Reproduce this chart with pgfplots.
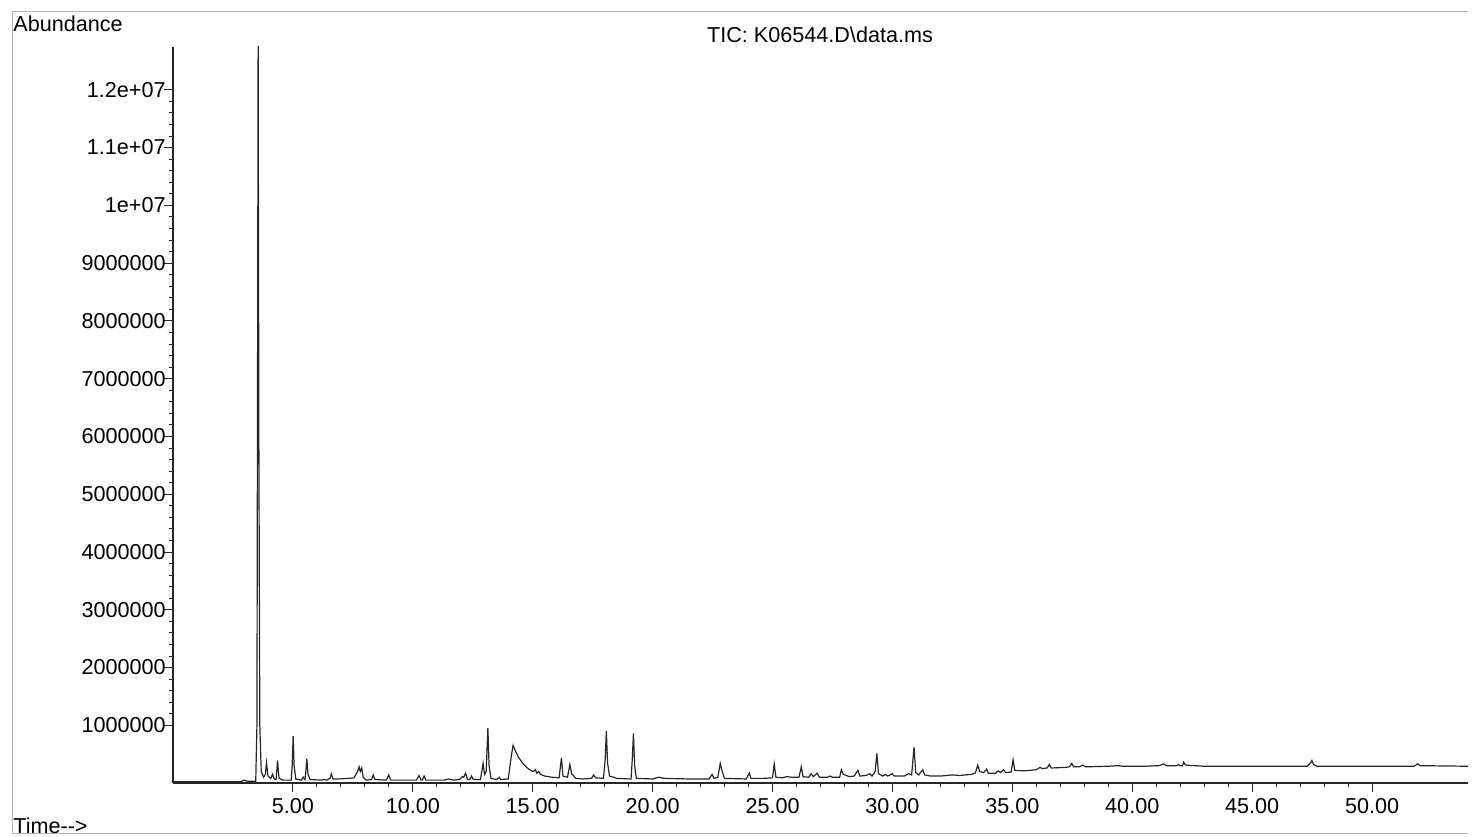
\documentclass[border=0pt]{standalone}
\usepackage{pgfplots}
\pgfplotsset{compat=1.18}
\usepackage{fontspec}
\setmainfont{Liberation Sans}
\begin{document}
\fontsize{10.8}{13}\selectfont
\begin{tikzpicture}[x=1pt,y=1pt]
\useasboundingbox (0,0) rectangle (736,418);
\draw[black!30, line width=0.5pt] (6,1.5) -- (6,412) -- (734,412);
\draw[black!30, line width=0.5pt] (6,1.5) -- (734,1.5);
\begin{axis}[
  at={(86.5pt,26.5pt)}, anchor=south west,
  scale only axis, width=647.5pt, height=368pt,
  xmin=0, xmax=54, ymin=0, ymax=12.74,
  axis x line*=bottom, axis y line*=left,
  axis line style={black!85, line width=0.6pt},
  tick align=outside,
  major tick length=4.5pt, minor tick length=2pt,
  xtick={5,10,...,50},
  xticklabels={5.00,10.00,15.00,20.00,25.00,30.00,35.00,40.00,45.00,50.00},
  minor x tick num=4,
  ytick={1,2,...,12},
  yticklabels={1000000,2000000,3000000,4000000,5000000,6000000,7000000,8000000,9000000,1e+07,1.1e+07,1.2e+07},
  minor y tick num=4,
  x tick style={black!85, line width=0.5pt},
  y tick style={black!85, line width=0.4pt},
  xticklabel style={font=\fontsize{10.8}{13}\selectfont, inner sep=2pt, yshift=-1pt},
  yticklabel style={font=\fontsize{10.8}{13}\selectfont, inner sep=1pt, xshift=2pt},
  clip=true,
]
\addplot[black!85, line width=0.6pt] coordinates {
(0.05,0.02) (2.8,0.02) (2.97,0.05) (3.1,0.03) (3.3,0.03) (3.45,0.03)
(3.50,1.0) (3.53,8.0) (3.55,12.9) (3.58,6.0) (3.62,1.0) (3.68,0.2)
(3.78,0.1) (3.85,0.15) (3.90,0.35) (3.96,0.12) (4.08,0.08) (4.15,0.15)
(4.22,0.07) (4.30,0.06) (4.36,0.39) (4.42,0.08) (4.6,0.05) (4.93,0.05)
(4.97,0.3) (5.01,0.81) (5.05,0.3) (5.12,0.07) (5.35,0.05) (5.43,0.1)
(5.5,0.06) (5.53,0.15) (5.58,0.42) (5.63,0.15) (5.72,0.06) (6.2,0.05)
(6.3,0.06) (6.4,0.05) (6.55,0.08) (6.6,0.16) (6.67,0.07) (6.9,0.07)
(7.3,0.08) (7.55,0.09) (7.7,0.2) (7.76,0.28) (7.81,0.2) (7.87,0.26)
(7.93,0.1) (8.05,0.05) (8.28,0.06) (8.35,0.14) (8.42,0.06) (8.9,0.05)
(9.0,0.14) (9.07,0.05) (10.15,0.05) (10.26,0.13) (10.34,0.05) (10.4,0.05)
(10.47,0.12) (10.54,0.05) (11.3,0.05) (11.5,0.07) (11.7,0.05) (11.95,0.06)
(12.06,0.11) (12.12,0.1) (12.2,0.17) (12.28,0.06) (12.38,0.06) (12.45,0.12)
(12.52,0.06) (12.82,0.06) (12.93,0.34) (12.99,0.15) (13.06,0.2) (13.13,0.95)
(13.18,0.3) (13.26,0.08) (13.5,0.06) (13.6,0.1) (13.66,0.06) (13.98,0.07)
(14.1,0.45) (14.18,0.65) (14.28,0.55) (14.4,0.45) (14.6,0.33) (14.8,0.25)
(15.0,0.2) (15.06,0.21) (15.11,0.23) (15.17,0.17) (15.25,0.2) (15.32,0.15)
(15.5,0.12) (15.8,0.1) (16.1,0.09) (16.2,0.44) (16.26,0.12) (16.45,0.1)
(16.55,0.32) (16.62,0.16) (16.8,0.08) (17.1,0.07) (17.45,0.08) (17.54,0.14)
(17.62,0.09) (17.95,0.08) (18.02,0.4) (18.07,0.9) (18.12,0.35) (18.2,0.12)
(18.38,0.1) (18.5,0.08) (19.1,0.07) (19.15,0.4) (19.2,0.86) (19.25,0.3)
(19.32,0.08) (20.0,0.07) (20.26,0.1) (20.5,0.08) (21.5,0.07) (22.35,0.07)
(22.48,0.15) (22.56,0.08) (22.72,0.1) (22.82,0.34) (22.9,0.2) (23.0,0.08)
(23.9,0.07) (24.03,0.17) (24.1,0.08) (24.6,0.08) (25.0,0.09) (25.07,0.33)
(25.14,0.1) (25.4,0.09) (25.6,0.11) (25.8,0.1) (26.1,0.1) (26.2,0.28)
(26.27,0.11) (26.5,0.1) (26.61,0.16) (26.7,0.11) (26.86,0.17) (26.95,0.1)
(27.3,0.1) (27.4,0.12) (27.5,0.1) (27.8,0.1) (27.87,0.23) (27.95,0.15)
(28.2,0.11) (28.4,0.12) (28.56,0.22) (28.64,0.12) (28.9,0.13) (29.05,0.16)
(29.15,0.12) (29.28,0.2) (29.35,0.51) (29.42,0.16) (29.6,0.12) (29.7,0.15)
(29.8,0.12) (29.99,0.16) (30.08,0.12) (30.5,0.12) (30.67,0.16) (30.8,0.14)
(30.9,0.62) (30.97,0.18) (31.1,0.14) (31.26,0.23) (31.34,0.14) (31.6,0.12)
(32.0,0.12) (32.5,0.14) (32.8,0.13) (33.3,0.15) (33.45,0.17) (33.56,0.31)
(33.64,0.2) (33.8,0.18) (33.93,0.24) (34.0,0.17) (34.3,0.17) (34.42,0.21)
(34.5,0.18) (34.63,0.23) (34.72,0.18) (34.95,0.19) (35.03,0.4) (35.1,0.22)
(35.5,0.21) (36.0,0.23) (36.15,0.27) (36.25,0.25) (36.45,0.26) (36.54,0.32)
(36.62,0.26) (37.2,0.27) (37.38,0.28) (37.48,0.34) (37.55,0.28) (37.8,0.28)
(37.94,0.31) (38.05,0.28) (39.0,0.29) (39.4,0.3) (39.6,0.29) (40.5,0.29)
(41.1,0.3) (41.32,0.33) (41.42,0.3) (41.85,0.3) (41.93,0.32) (42.0,0.3)
(42.1,0.3) (42.14,0.36) (42.22,0.31) (43.0,0.29) (45.0,0.29) (47.3,0.29)
(47.42,0.34) (47.49,0.39) (47.56,0.32) (47.7,0.29) (49.5,0.29) (51.75,0.29)
(51.9,0.33) (52.0,0.3) (54.0,0.29)
};
\end{axis}
\node[anchor=west, inner sep=0pt] at (6.5,406) {Abundance};
\node[anchor=center, inner sep=0pt] at (410,400.5) {TIC: K06544.D\textbackslash data.ms};
\node[anchor=west, inner sep=0pt] at (6.5,5) {Time-{}-{}>};
\end{tikzpicture}
\end{document}
